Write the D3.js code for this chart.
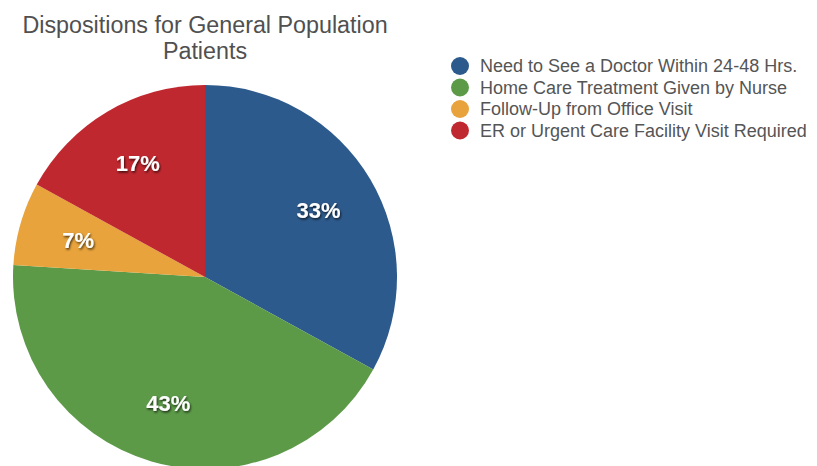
<!DOCTYPE html>
<html>
<head>
<meta charset="utf-8">
<script src="https://cdn.jsdelivr.net/npm/d3@7"></script>
<style>
  body { margin: 0; background: #fff; }
  text { font-family: "Liberation Sans", Arial, sans-serif; }
</style>
</head>
<body>
<script>
// chart data
var categories = [
  "Need to See a Doctor Within 24-48 Hrs.",
  "Home Care Treatment Given by Nurse",
  "Follow-Up from Office Visit",
  "ER or Urgent Care Facility Visit Required"
];
var values = [33, 43, 7, 17];
var colors = ["#2d5a8c", "#5c9a48", "#e8a33c", "#c0282f"];

var svgWidth = 817;
var svgHeight = 466;

var svg = d3.select("body")
  .append("svg")
  .attr("width", svgWidth)
  .attr("height", svgHeight);

// drop shadow for the slice labels
var defs = svg.append("defs");
var shadow = defs.append("filter")
  .attr("id", "shadow")
  .attr("x", "-20%").attr("y", "-20%")
  .attr("width", "140%").attr("height", "140%");
shadow.append("feDropShadow")
  .attr("dx", 1).attr("dy", 1.5)
  .attr("stdDeviation", 1)
  .attr("flood-color", "#000")
  .attr("flood-opacity", 0.7);

// title
var title = svg.append("text")
  .attr("text-anchor", "middle")
  .attr("fill", "#505050")
  .style("font-size", "23.3px");
title.append("tspan").attr("x", 205).attr("y", 33).text("Dispositions for General Population");
title.append("tspan").attr("x", 205).attr("y", 59).text("Patients");

// pie
var radius = 192;
var pieGroup = svg.append("g")
  .attr("transform", "translate(205, 277)");

var pie = d3.pie().sort(null).value(d => d);
var arc = d3.arc().innerRadius(0).outerRadius(radius);
var labelArc = d3.arc().innerRadius(132).outerRadius(132);

var slices = pie(values);

pieGroup.selectAll("path")
  .data(slices)
  .enter()
  .append("path")
  .attr("d", arc)
  .attr("fill", (d, i) => colors[i]);

pieGroup.selectAll(".label")
  .data(slices)
  .enter()
  .append("text")
  .attr("class", "label")
  .attr("transform", d => `translate(${labelArc.centroid(d)})`)
  .attr("text-anchor", "middle")
  .attr("dy", "0.35em")
  .attr("fill", "#fff")
  .attr("filter", "url(#shadow)")
  .style("font-size", "22px")
  .style("font-weight", "bold")
  .text(d => d.data + "%");

// legend
var legend = svg.append("g")
  .attr("transform", "translate(460, 66)");

var rows = legend.selectAll("g")
  .data(categories)
  .enter()
  .append("g")
  .attr("transform", (d, i) => `translate(0, ${i * 21.5})`);

rows.append("circle")
  .attr("r", 9)
  .attr("fill", (d, i) => colors[i]);

rows.append("text")
  .attr("x", 20)
  .attr("dy", "0.35em")
  .attr("fill", "#555")
  .style("font-size", "18px")
  .text(d => d);
</script>
</body>
</html>
